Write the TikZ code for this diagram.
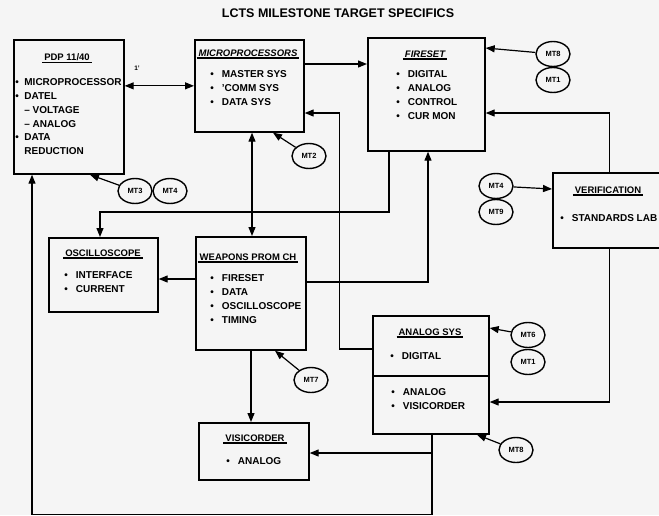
\documentclass[tikz,border=0pt]{standalone}
\usepackage{fontspec}
\setmainfont{Liberation Sans}
\usetikzlibrary{arrows.meta,calc,shapes.geometric}
\newcommand{\ulx}[1]{\setbox0\hbox{#1}\hbox{\kern-2pt\rlap{\rule[-2.6pt]{\dimexpr\wd0+4pt\relax}{1.2pt}}\kern2pt\box0}}
\tikzset{
  box/.style={draw, line width=1.7pt, inner sep=0pt, anchor=north west},
  ttl/.style={font=\fontsize{9.5}{11}\selectfont\bfseries, inner sep=0pt},
  items/.style={font=\fontsize{10}{13.8}\selectfont\bfseries, inner sep=0pt, anchor=base west},
  mt/.style={draw, ellipse, line width=1.4pt, minimum width=34pt, minimum height=25pt, inner sep=0pt, font=\fontsize{7.5}{8}\selectfont\bfseries},
  conn/.style={line width=1.2pt},
  arr/.style={conn, -{Triangle[length=9pt,width=7pt]}},
  dbl/.style={conn, {Triangle[length=9pt,width=7pt]}-{Triangle[length=9pt,width=7pt]}},
}
\begin{document}
\begin{tikzpicture}[x=1pt,y=-1pt]
\fill[fill={rgb,255:red,245;green,245;blue,245}] (0,0) rectangle (659,515);
\useasboundingbox (0,0) rectangle (659,515);
\clip (0,0) rectangle (659,515);

\node[font=\fontsize{12.5}{14}\selectfont\bfseries, inner sep=0pt] (title) at (338,13) {LCTS MILESTONE TARGET SPECIFICS};

% boxes
\node[box, minimum width=110pt, minimum height=134pt] (pdp) at (13,39) {};
\node[box, minimum width=109pt, minimum height=92pt] (micro) at (194,39) {};
\node[box, minimum width=117pt, minimum height=113pt] (fireset) at (367,37) {};
\node[box, minimum width=114pt, minimum height=75pt] (verif) at (552,172) {};
\node[box, minimum width=109pt, minimum height=74pt] (osc) at (48,237) {};
\node[box, minimum width=110pt, minimum height=113pt] (weapons) at (195,236) {};
\node[box, minimum width=116pt, minimum height=118pt] (analog) at (372,315) {};
\node[box, minimum width=110pt, minimum height=57pt] (visi) at (198,422) {};
\draw[line width=1.7pt] ($(analog.north west)+(0,61)$) -- ($(analog.north east)+(0,61)$);

% titles
\node[ttl] (pdpt) at (67,58) {\ulx{PDP 11/40}};
\node[ttl] (microt) at (248,54) {\ulx{\itshape MICROPROCESSORS}};
\node[ttl] (firesett) at (425,55) {\ulx{\itshape FIRESET}};
\node[ttl] (verit) at (608,191) {\ulx{VERIFICATION}};
\node[ttl] (osct) at (103,254) {\ulx{OSCILLOSCOPE}};
\node[ttl] (weapt) at (248,258) {\ulx{WEAPONS PROM CH}};
\node[ttl] (analogt) at (430,333) {\ulx{ANALOG SYS}};
\node[ttl] (visit) at (255,439) {\ulx{VISICORDER}};

% item lists
\node[items] (pdpi) at (15.2,85.6) {\begin{tabular}[t]{@{}c@{\hspace{5.5pt}}l@{}}
\textbullet & MICROPROCESSOR\\
\textbullet & DATEL\\
 & -- VOLTAGE\\
 & -- ANALOG\\
\textbullet & DATA\\
 & REDUCTION
\end{tabular}};
\node[items] (microi) at (210.2,77.6) {\begin{tabular}[t]{@{}c@{\hspace{8pt}}l@{}}
\textbullet & MASTER SYS\\
\textbullet & 'COMM SYS\\
\textbullet & DATA SYS
\end{tabular}};
\node[items] (fireseti) at (396.2,77.6) {\begin{tabular}[t]{@{}c@{\hspace{8pt}}l@{}}
\textbullet & DIGITAL\\
\textbullet & ANALOG\\
\textbullet & CONTROL\\
\textbullet & CUR MON
\end{tabular}};
\node[items] (verifi) at (560.2,221.6) {\begin{tabular}[t]{@{}c@{\hspace{8pt}}l@{}}
\textbullet & STANDARDS LAB
\end{tabular}};
\node[items] (osci) at (64.2,278.6) {\begin{tabular}[t]{@{}c@{\hspace{8pt}}l@{}}
\textbullet & INTERFACE\\
\textbullet & CURRENT
\end{tabular}};
\node[items] (weapi) at (210.2,281.6) {\begin{tabular}[t]{@{}c@{\hspace{8pt}}l@{}}
\textbullet & FIRESET\\
\textbullet & DATA\\
\textbullet & OSCILLOSCOPE\\
\textbullet & TIMING
\end{tabular}};
\node[items] (analogi) at (390.2,359.6) {\begin{tabular}[t]{@{}c@{\hspace{8pt}}l@{}}
\textbullet & DIGITAL
\end{tabular}};
\node[items] (analogii) at (391.2,395.6) {\begin{tabular}[t]{@{}c@{\hspace{8pt}}l@{}}
\textbullet & ANALOG\\
\textbullet & VISICORDER
\end{tabular}};
\node[items] (visii) at (226.2,464.6) {\begin{tabular}[t]{@{}c@{\hspace{8pt}}l@{}}
\textbullet & ANALOG
\end{tabular}};

% milestone ellipses
\node[mt] (mt8) at (553,54) {MT8};
\node[mt] (mt1a) at (553,80) {MT1};
\node[mt] (mt4) at (496,186) {MT4};
\node[mt] (mt9) at (496,212) {MT9};
\node[mt] (mt6) at (528,335) {MT6};
\node[mt] (mt1b) at (528,362) {MT1};
\node[mt] (mt8b) at (516,450) {MT8};
\node[mt] (mt2) at (309,156) {MT2};
\node[mt] (mt7) at (311,380) {MT7};
\node[mt] (mt3) at (135,191) {MT3};
\node[mt] (mt4b) at (170,191) {MT4};

\node[font=\fontsize{6.5}{7}\selectfont\bfseries, inner sep=0pt] (mark) at (137,68) {1'};

% connectors
\draw[dbl] (pdp.east |- micro.west) -- (micro.west);
\draw[arr] ($(micro.north east)+(0,25)$) -- ($(fireset.north west)+(0,27)$);
\draw[arr] (mt8) -- ($(fireset.north east)+(0,11)$);
\draw[arr] (verif.north) |- ($(fireset.north east)+(0,76)$);
\draw[arr] (mt4) -- ($(verif.north west)+(0,17)$);
\draw[arr] (verif.south) |- ($(analog.north east)+(0,87)$);
\draw[arr] (mt6) -- ($(analog.north east)+(0,13)$);
\draw[arr] (mt8b) -- ($(analog.south west)+(105,0)$);
\draw[arr] (mt2) -- ($(micro.south west)+(79,0)$);
\draw[dbl] ($(micro.south west)+(58,0)$) -- ($(weapons.north west)+(57,0)$);
\draw[arr] ($(fireset.south west)+(22,0)$) |- ($(osc.north west)+(52,-25)$) -- ($(osc.north west)+(52,0)$);
\draw[arr] ($(weapons.north east)+(0,46)$) -| ($(fireset.south west)+(61,0)$);
\draw[arr] ($(analog.north west)+(0,34)$) -| ($(micro.north east)+(35,74)$) -- ($(micro.north east)+(0,74)$);
\draw[arr] ($(weapons.north west)+(0,43)$) -- ($(osc.north east)+(0,42)$);
\draw[arr] (mt7) -- ($(weapons.south west)+(80,0)$);
\draw[arr] ($(weapons.south west)+(56,0)$) -- ($(visi.north west)+(53,0)$);
\draw[arr] ($(analog.south west)+(60,0)$) |- ($(visi.north east)+(0,31)$);
\coordinate (bend) at ($(analog.south west)+(60,80)$);
\draw[arr] ($(analog.south west)+(60,0)$) -- (bend) -| ($(pdp.south west)+(19,0)$);
\draw[arr] (mt3) -- ($(pdp.south west)+(77,0)$);
\end{tikzpicture}
\end{document}
